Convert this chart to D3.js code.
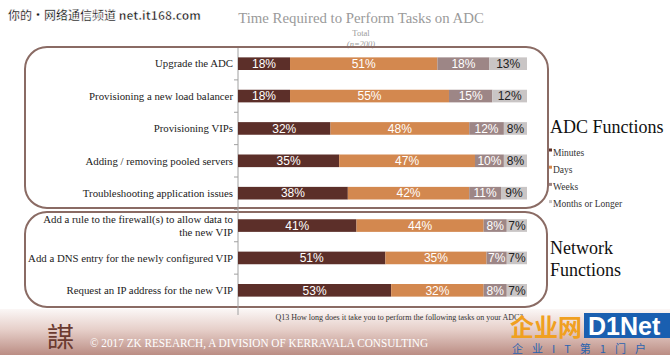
<!DOCTYPE html>
<html>
<head>
<meta charset="utf-8">
<script src="https://cdn.jsdelivr.net/npm/d3@7"></script>
<style>
  html, body { margin: 0; padding: 0; background: #fff; }
  svg { display: block; }
</style>
</head>
<body>
<svg id="chart" width="670" height="355"></svg>
<script>
// ---------- data ----------
const categories = [
  "Upgrade the ADC",
  "Provisioning a new load balancer",
  "Provisioning VIPs",
  "Adding / removing pooled servers",
  "Troubleshooting application issues",
  "Add a rule to the firewall(s) to allow data to the new VIP",
  "Add a DNS entry for the newly configured VIP",
  "Request an IP address for the new VIP"
];
const seriesNames = ["Minutes", "Days", "Weeks", "Months or Longer"];
const minutes = [18, 18, 32, 35, 38, 41, 51, 53];
const days    = [51, 55, 48, 47, 42, 44, 35, 32];
const weeks   = [18, 15, 12, 10, 11, 8, 7, 8];
const months  = [13, 12, 8, 8, 9, 7, 7, 7];
const groupLabels = ["ADC Functions", "Network Functions"];

// ---------- setup ----------
const svg = d3.select("#chart");
const colors = d3.scaleOrdinal().domain(seriesNames)
  .range(["#5c2f29", "#d3884f", "#9d8686", "#c9c5c5"]);
const labelColors = d3.scaleOrdinal().domain(seriesNames)
  .range(["#ffffff", "#ffffff", "#ffffff", "#222222"]);

const x = d3.scaleLinear().domain([0, 100]).range([238, 527]);
const y = d3.scaleBand().domain(categories).range([47.5, 306.5])
  .paddingInner(0.61).paddingOuter(0.305);

const table = categories.map((c, i) => ({
  cat: c, "Minutes": minutes[i], "Days": days[i], "Weeks": weeks[i], "Months or Longer": months[i]
}));
const stacked = d3.stack().keys(seriesNames)(table);

// ---------- footer background ----------
const defs = svg.append("defs");
const grad = defs.append("linearGradient").attr("id", "foot")
  .attr("x1", 0).attr("y1", 0).attr("x2", 0).attr("y2", 1);
grad.append("stop").attr("offset", "0%").attr("stop-color", "#fbf7f6");
grad.append("stop").attr("offset", "45%").attr("stop-color", "#e6cfc9");
grad.append("stop").attr("offset", "100%").attr("stop-color", "#bb8d84");
svg.append("rect").attr("x", 0).attr("y", 309).attr("width", 670).attr("height", 46)
  .attr("fill", "url(#foot)");

// ---------- title ----------
svg.append("text").attr("x", 361).attr("y", 23).attr("text-anchor", "middle")
  .attr("font-family", "Liberation Serif, serif").attr("font-size", 14.8)
  .attr("fill", "#9a9a9a").text("Time Required to Perform Tasks on ADC");
svg.append("text").attr("x", 361).attr("y", 36).attr("text-anchor", "middle")
  .attr("font-family", "Liberation Serif, serif").attr("font-size", 8.5)
  .attr("fill", "#9a9a9a").text("Total");
svg.append("text").attr("x", 361).attr("y", 47).attr("text-anchor", "middle")
  .attr("font-family", "Liberation Serif, serif").attr("font-size", 8.5).attr("font-style", "italic")
  .attr("fill", "#9a9a9a").text("(n=200)");

// ---------- group boxes ----------
svg.append("rect").attr("x", 25).attr("y", 47).attr("width", 523).attr("height", 161)
  .attr("rx", 22).attr("ry", 22).attr("fill", "none").attr("stroke", "#8a6b64").attr("stroke-width", 2);
svg.append("rect").attr("x", 25).attr("y", 212).attr("width", 522).attr("height", 95)
  .attr("rx", 22).attr("ry", 22).attr("fill", "none").attr("stroke", "#8a6b64").attr("stroke-width", 2);

// ---------- axis line and ticks ----------
svg.append("line").attr("x1", x(0)).attr("x2", x(0)).attr("y1", 48).attr("y2", 315)
  .attr("stroke", "#a0a0a0").attr("stroke-width", 1);
const step = y.step();
categories.slice(1).forEach(c => {
  const yy = y(c) - step * y.paddingInner() / 2;
  svg.append("line").attr("x1", x(0) - 4).attr("x2", x(0)).attr("y1", yy).attr("y2", yy)
    .attr("stroke", "#a0a0a0").attr("stroke-width", 1);
});

// ---------- bars ----------
const layers = svg.append("g").selectAll("g").data(stacked).join("g")
  .attr("fill", d => colors(d.key));
layers.selectAll("rect").data(d => d.map(v => ({ v, key: d.key }))).join("rect")
  .attr("x", d => x(d.v[0]))
  .attr("y", d => y(d.v.data.cat))
  .attr("width", d => x(d.v[1]) - x(d.v[0]))
  .attr("height", y.bandwidth());
layers.selectAll("text").data(d => d.map(v => ({ v, key: d.key }))).join("text")
  .attr("x", d => (x(d.v[0]) + x(d.v[1])) / 2)
  .attr("y", d => y(d.v.data.cat) + y.bandwidth() / 2 + 4.3)
  .attr("text-anchor", "middle")
  .attr("font-family", "Liberation Sans, Arial, sans-serif").attr("font-size", 12)
  .attr("fill", d => labelColors(d.key))
  .text(d => (d.v[1] - d.v[0]) + "%");

// ---------- category labels ----------
const catG = svg.append("g").attr("font-family", "Liberation Serif, serif")
  .attr("font-size", 10.8).attr("fill", "#222").attr("text-anchor", "end");
categories.forEach(c => {
  const cy = y(c) + y.bandwidth() / 2;
  if (c.startsWith("Add a rule")) {
    catG.append("text").attr("x", 233).attr("y", cy - 2.5).text("Add a rule to the firewall(s) to allow data to");
    catG.append("text").attr("x", 233).attr("y", cy + 10).text("the new VIP");
  } else {
    catG.append("text").attr("x", 233).attr("y", cy + 3.8).text(c);
  }
});

// ---------- group labels & legend ----------
svg.append("text").attr("x", 550).attr("y", 133)
  .attr("font-family", "Liberation Serif, serif").attr("font-size", 18).attr("fill", "#111")
  .text(groupLabels[0]);
const nf = svg.append("text").attr("font-family", "Liberation Serif, serif")
  .attr("font-size", 18).attr("fill", "#111");
nf.append("tspan").attr("x", 550).attr("y", 254).text("Network");
nf.append("tspan").attr("x", 550).attr("y", 276).text("Functions");

const leg = svg.append("g").selectAll("g").data(seriesNames).join("g")
  .attr("transform", (d, i) => `translate(549, ${153 + i * 17.2})`);
leg.append("rect").attr("x", 0).attr("y", -4.5).attr("width", 3).attr("height", 3)
  .attr("fill", d => colors(d));
leg.append("text").attr("x", 4).attr("y", 2.5)
  .attr("font-family", "Liberation Serif, serif").attr("font-size", 9.5).attr("fill", "#333")
  .text(d => d);

// ---------- footer ----------
svg.append("text").attr("x", 523).attr("y", 320).attr("text-anchor", "end")
  .attr("font-family", "Liberation Serif, serif").attr("font-size", 8).attr("fill", "#333")
  .text("Q13 How long does it take you to perform the following tasks on your ADC?");
svg.append("text").attr("x", 47).attr("y", 347)
  .attr("font-family", "Noto Sans CJK TC, serif").attr("font-size", 27).attr("fill", "#6b3a30")
  .text("謀");
svg.append("text").attr("x", 90).attr("y", 347)
  .attr("font-family", "Liberation Serif, serif").attr("font-size", 13).attr("fill", "#ffffff")
  .attr("textLength", 338).attr("lengthAdjust", "spacingAndGlyphs")
  .text("© 2017 ZK RESEARCH, A DIVISION OF KERRAVALA CONSULTING");

// ---------- watermarks ----------
svg.append("text").attr("x", 8).attr("y", 20)
  .attr("font-family", "Noto Sans CJK SC, sans-serif").attr("font-size", 12).attr("font-weight", "bold")
  .attr("fill", "#111").attr("stroke", "#fff").attr("stroke-width", 0.5)
  .text("你的·网络通信频道 net.it168.com");
svg.append("text").attr("x", 510).attr("y", 336)
  .attr("font-family", "Noto Sans CJK SC, sans-serif").attr("font-size", 24).attr("font-weight", "bold")
  .attr("fill", "#f0a020").text("企业网");
svg.append("rect").attr("x", 584).attr("y", 313).attr("width", 86).attr("height", 25).attr("fill", "#1a5fb0");
svg.append("text").attr("x", 588).attr("y", 335)
  .attr("font-family", "Liberation Sans, sans-serif").attr("font-size", 25).attr("font-weight", "bold")
  .attr("fill", "#fff").text("D1Net");
svg.append("text").attr("x", 512).attr("y", 353)
  .attr("font-family", "Noto Sans CJK SC, sans-serif").attr("font-size", 11)
  .attr("fill", "#2a64b0").attr("letter-spacing", 9).text("企业IT第1门户");
</script>
</body>
</html>
